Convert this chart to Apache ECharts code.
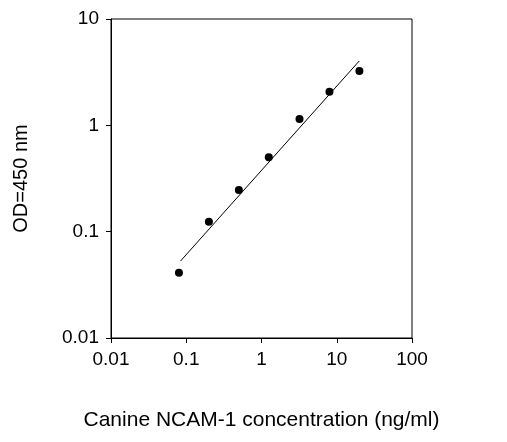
<!DOCTYPE html>
<html><head><meta charset="utf-8">
<script src="https://cdn.jsdelivr.net/npm/echarts@6/dist/echarts.min.js"></script>
<style>body{margin:0;background:#fff}#c{width:507px;height:442px}</style>
</head><body><div id="c"></div>
<script>
var conc = [0.08, 0.2, 0.5, 1.25, 3.2, 8, 20];
var od = [0.041, 0.124, 0.246, 0.50, 1.15, 2.07, 3.24];
var fitX = [0.084, 19.9];
var fitY = [0.053, 4.03];

var chart = echarts.init(document.getElementById('c'));
var font = 'Liberation Sans, Arial, sans-serif';
chart.setOption({
  animation: false,
  grid: {left: 111, right: 95, top: 19, bottom: 104, show: true, borderColor: '#000', borderWidth: 1},
  xAxis: {
    type: 'log', min: 0.01, max: 100, logBase: 10,
    name: 'Canine NCAM-1 concentration (ng/ml)', nameLocation: 'middle', nameGap: 72,
    nameTextStyle: {fontFamily: font, fontSize: 21, color: '#000'},
    axisLine: {lineStyle: {color: '#000'}},
    axisTick: {inside: false, length: 5, lineStyle: {color: '#000'}},
    minorTick: {show: false}, splitLine: {show: false},
    axisLabel: {fontFamily: font, fontSize: 19, color: '#000', margin: 12,
      formatter: function (v) { return String(+v.toPrecision(3)); }}
  },
  yAxis: {
    type: 'log', min: 0.01, max: 10, logBase: 10,
    name: 'OD=450 nm', nameLocation: 'middle', nameGap: 80,
    nameTextStyle: {fontFamily: font, fontSize: 20, color: '#000'},
    axisLine: {lineStyle: {color: '#000'}},
    axisTick: {length: 5, lineStyle: {color: '#000'}},
    splitLine: {show: false},
    axisLabel: {fontFamily: font, fontSize: 19, color: '#000', margin: 12,
      formatter: function (v) { return String(+v.toPrecision(3)); }}
  },
  series: [
    {type: 'line', data: fitX.map(function (x, i) { return [x, fitY[i]]; }),
     symbol: 'none', lineStyle: {color: '#000', width: 1}},
    {type: 'scatter', data: conc.map(function (x, i) { return [x, od[i]]; }),
     symbolSize: 8, itemStyle: {color: '#000', opacity: 1}}
  ]
});
</script></body></html>
